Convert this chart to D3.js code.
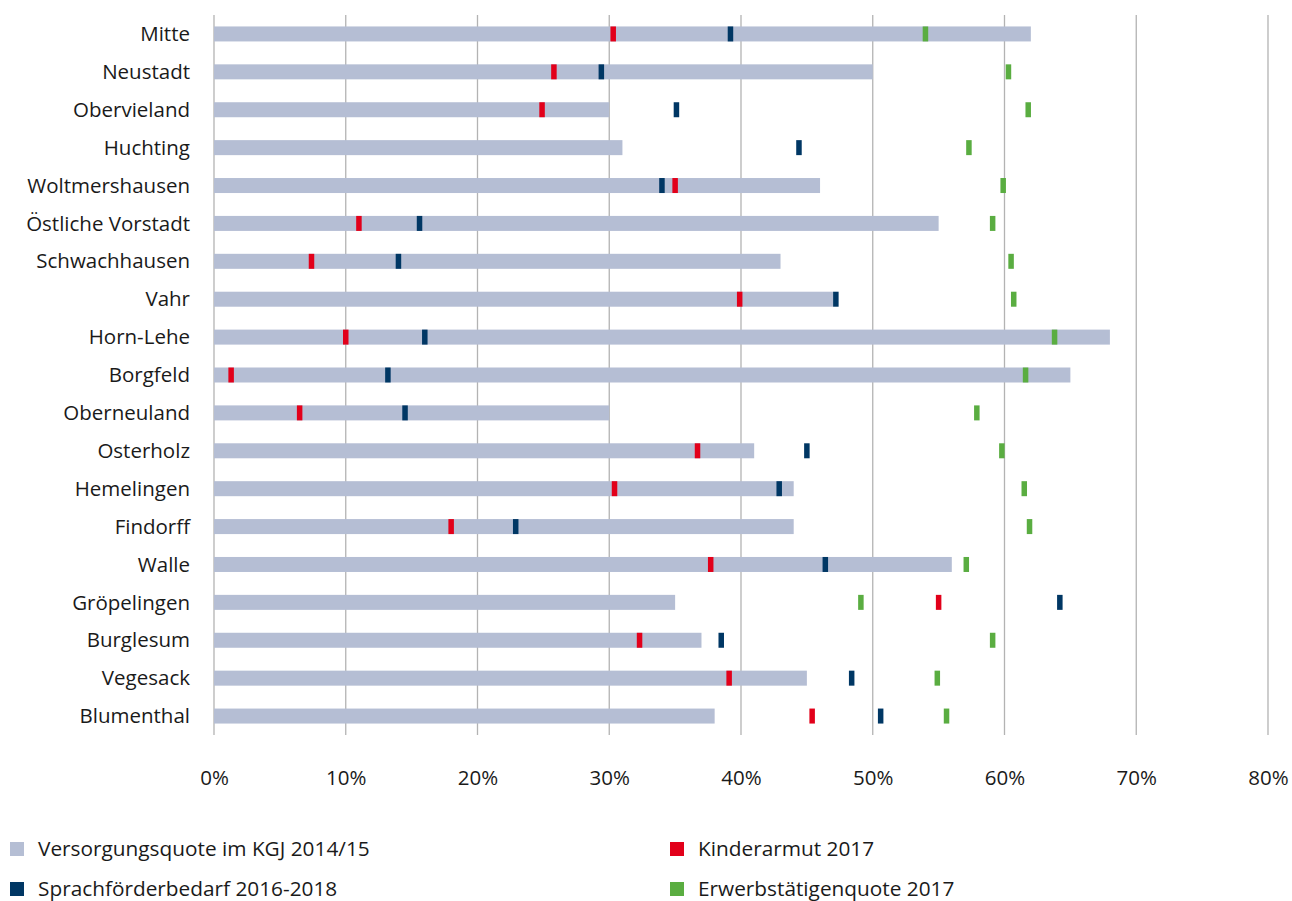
<!DOCTYPE html>
<html>
<head>
<meta charset="utf-8">
<script src="https://cdn.jsdelivr.net/npm/d3@7"></script>
<style>
  body { margin: 0; background: #fff; }
  text { font-family: "Open Sans", sans-serif; fill: #1a1a1a; }
</style>
</head>
<body>
<script>
// categories (top to bottom)
var districts = ["Mitte", "Neustadt", "Obervieland", "Huchting", "Woltmershausen",
  "Östliche Vorstadt", "Schwachhausen", "Vahr", "Horn-Lehe", "Borgfeld",
  "Oberneuland", "Osterholz", "Hemelingen", "Findorff", "Walle",
  "Gröpelingen", "Burglesum", "Vegesack", "Blumenthal"];

// series values in percent
var versorgung = [62, 50, 30, 31, 46, 55, 43, 47, 68, 65, 30, 41, 44, 44, 56, 35, 37, 45, 38];
var kinderarmut = [30.3, 25.8, 24.9, null, 35.0, 11.0, 7.4, 39.9, 10.0, 1.3, 6.5, 36.7, 30.4, 18.0, 37.7, 55.0, 32.3, 39.1, 45.4];
var sprache = [39.2, 29.4, 35.1, 44.4, 34.0, 15.6, 14.0, 47.2, 16.0, 13.2, 14.5, 45.0, 42.9, 22.9, 46.4, 64.2, 38.5, 48.4, 50.6];
var erwerb = [54.0, 60.3, 61.8, 57.3, 59.9, 59.1, 60.5, 60.7, 63.8, 61.6, 57.9, 59.8, 61.5, 61.9, 57.1, 49.1, 59.1, 54.9, 55.6];

var ticks = [0, 10, 20, 30, 40, 50, 60, 70, 80];
var seriesNames = ["Versorgungsquote im KGJ 2014/15", "Kinderarmut 2017",
  "Sprachförderbedarf 2016-2018", "Erwerbstätigenquote 2017"];
var colors = ["#b5bed4", "#e2001a", "#003764", "#5aad41"];

var w = 1292, h = 901;

var svg = d3.select("body").append("svg")
  .attr("width", w)
  .attr("height", h);

var x = d3.scaleLinear().domain([0, 80]).range([214, 1268]);
var y = d3.scaleBand().domain(districts).range([15, 735]);
var barH = 15;
var mW = 5.5;

// gridlines
svg.selectAll("line.grid")
  .data(ticks)
  .enter()
  .append("line")
  .attr("class", "grid")
  .attr("x1", function (d) { return x(d); })
  .attr("x2", function (d) { return x(d); })
  .attr("y1", 15)
  .attr("y2", 735)
  .attr("stroke", "#b3b3b3")
  .attr("stroke-width", 1.3);

// bars
svg.selectAll("rect.bar")
  .data(versorgung)
  .enter()
  .append("rect")
  .attr("class", "bar")
  .attr("x", x(0))
  .attr("y", function (d, i) { return y(districts[i]) + y.bandwidth() / 2 - barH / 2; })
  .attr("width", function (d) { return x(d) - x(0); })
  .attr("height", barH)
  .attr("fill", colors[0]);

// markers
function markers(values, color, cls) {
  svg.selectAll("rect." + cls)
    .data(values.map(function (v, i) { return { v: v, d: districts[i] }; })
      .filter(function (o) { return o.v != null; }))
    .enter()
    .append("rect")
    .attr("class", cls)
    .attr("x", function (o) { return x(o.v) - mW / 2; })
    .attr("y", function (o) { return y(o.d) + y.bandwidth() / 2 - barH / 2; })
    .attr("width", mW)
    .attr("height", barH)
    .attr("fill", color);
}
markers(kinderarmut, colors[1], "red");
markers(sprache, colors[2], "navy");
markers(erwerb, colors[3], "green");

// category labels
svg.selectAll("text.cat")
  .data(districts)
  .enter()
  .append("text")
  .attr("class", "cat")
  .text(function (d) { return d; })
  .attr("x", 190)
  .attr("y", function (d) { return y(d) + y.bandwidth() / 2; })
  .attr("dy", "0.35em")
  .attr("text-anchor", "end")
  .attr("font-size", "20.5px");

// x axis
var xAxis = d3.axisBottom(x)
  .tickValues(ticks)
  .tickFormat(function (d) { return d + "%"; })
  .tickSize(0)
  .tickPadding(0);

var gx = svg.append("g")
  .attr("transform", "translate(0,770)")
  .call(xAxis);
gx.select(".domain").remove();
gx.selectAll("text")
  .attr("font-size", "20.5px")
  .attr("font-family", "'Open Sans', sans-serif")
  .attr("fill", "#1a1a1a");

// legend
var legendPos = [[10, 849], [670, 849], [10, 889], [670, 889]];
var lg = svg.selectAll("g.legend")
  .data(seriesNames)
  .enter()
  .append("g")
  .attr("class", "legend")
  .attr("transform", function (d, i) { return "translate(" + legendPos[i][0] + "," + legendPos[i][1] + ")"; });

lg.append("rect")
  .attr("x", 0)
  .attr("y", -7)
  .attr("width", 14)
  .attr("height", 14)
  .attr("fill", function (d, i) { return colors[i]; });

lg.append("text")
  .text(function (d) { return d; })
  .attr("x", 28)
  .attr("y", 0)
  .attr("dy", "0.35em")
  .attr("font-size", "20.8px");
</script>
</body>
</html>
